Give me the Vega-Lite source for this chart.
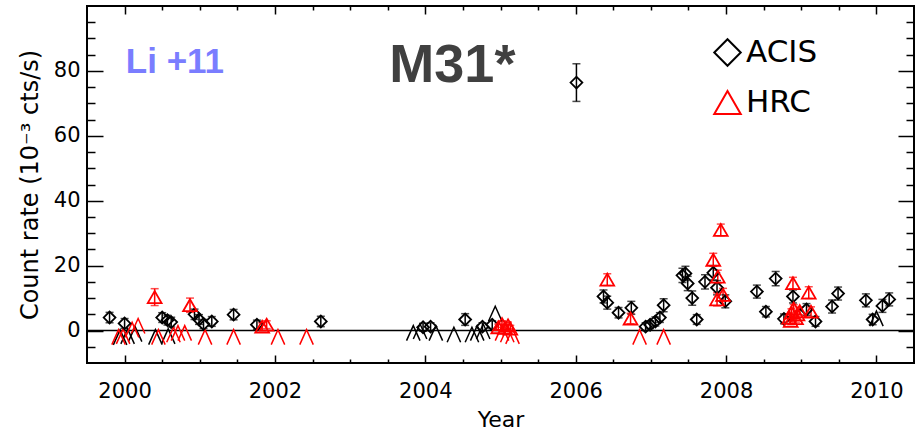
{
  "$schema": "https://vega.github.io/schema/vega-lite/v6.json",
  "width": 827,
  "height": 357,
  "autosize": {"type": "none"},
  "padding": {"left": 87, "top": 6, "right": 5, "bottom": 70},
  "background": "white",
  "config": {
    "view": {"stroke": "black", "strokeWidth": 2},
    "axis": {"domain": false, "grid": false, "tickColor": "black", "tickWidth": 1.5, "labelColor": "black", "labelFont": "DejaVu Sans", "labelFontSize": 21, "titleFont": "DejaVu Sans", "titleFontSize": 22, "titleFontWeight": "normal", "titleColor": "black", "labelFlush": false, "labelOverlap": false, "labelBound": false}
  },
  "datasets": {
    "det": [
      {"t":1999.80,"v":4.0,"lo":2.4,"hi":5.6,"inst":"ACIS"},
      {"t":2000.00,"v":2.2,"lo":0.7,"hi":3.7,"inst":"ACIS"},
      {"t":2000.50,"v":4.0,"lo":2.5,"hi":5.5,"inst":"ACIS"},
      {"t":2000.57,"v":3.2,"lo":1.7,"hi":4.7,"inst":"ACIS"},
      {"t":2000.62,"v":2.6,"lo":1.1,"hi":4.1,"inst":"ACIS"},
      {"t":2000.93,"v":5.0,"lo":3.4,"hi":6.6,"inst":"ACIS"},
      {"t":2000.99,"v":3.4,"lo":1.9,"hi":4.9,"inst":"ACIS"},
      {"t":2001.05,"v":2.0,"lo":0.6,"hi":3.4,"inst":"ACIS"},
      {"t":2001.16,"v":2.8,"lo":1.3,"hi":4.3,"inst":"ACIS"},
      {"t":2001.45,"v":4.9,"lo":3.3,"hi":6.5,"inst":"ACIS"},
      {"t":2001.76,"v":1.8,"lo":0.4,"hi":3.2,"inst":"ACIS"},
      {"t":2002.61,"v":2.8,"lo":1.2,"hi":4.4,"inst":"ACIS"},
      {"t":2003.97,"v":1.0,"lo":-0.2,"hi":2.2,"inst":"ACIS"},
      {"t":2004.07,"v":1.2,"lo":0.0,"hi":2.4,"inst":"ACIS"},
      {"t":2004.53,"v":3.4,"lo":1.6,"hi":5.2,"inst":"ACIS"},
      {"t":2004.76,"v":1.2,"lo":0.0,"hi":2.4,"inst":"ACIS"},
      {"t":2004.89,"v":1.8,"lo":0.6,"hi":3.0,"inst":"ACIS"},
      {"t":2006.01,"v":76.4,"lo":70.6,"hi":82.2,"inst":"ACIS"},
      {"t":2006.37,"v":10.5,"lo":8.5,"hi":12.5,"inst":"ACIS"},
      {"t":2006.42,"v":8.6,"lo":6.6,"hi":10.6,"inst":"ACIS"},
      {"t":2006.57,"v":5.5,"lo":3.9,"hi":7.1,"inst":"ACIS"},
      {"t":2006.74,"v":7.0,"lo":5.0,"hi":9.0,"inst":"ACIS"},
      {"t":2006.93,"v":1.2,"lo":0.0,"hi":2.4,"inst":"ACIS"},
      {"t":2006.99,"v":1.8,"lo":0.6,"hi":3.0,"inst":"ACIS"},
      {"t":2007.06,"v":2.8,"lo":1.4,"hi":4.2,"inst":"ACIS"},
      {"t":2007.12,"v":4.0,"lo":2.5,"hi":5.5,"inst":"ACIS"},
      {"t":2007.17,"v":7.8,"lo":5.8,"hi":9.8,"inst":"ACIS"},
      {"t":2007.42,"v":17.0,"lo":14.8,"hi":19.2,"inst":"ACIS"},
      {"t":2007.46,"v":17.6,"lo":15.4,"hi":19.8,"inst":"ACIS"},
      {"t":2007.49,"v":14.5,"lo":12.3,"hi":16.7,"inst":"ACIS"},
      {"t":2007.55,"v":10.0,"lo":7.8,"hi":12.2,"inst":"ACIS"},
      {"t":2007.61,"v":3.4,"lo":1.9,"hi":4.9,"inst":"ACIS"},
      {"t":2007.72,"v":15.0,"lo":12.8,"hi":17.2,"inst":"ACIS"},
      {"t":2007.83,"v":17.8,"lo":15.6,"hi":20.0,"inst":"ACIS"},
      {"t":2007.88,"v":13.2,"lo":11.0,"hi":15.4,"inst":"ACIS"},
      {"t":2007.99,"v":9.0,"lo":7.0,"hi":11.0,"inst":"ACIS"},
      {"t":2008.41,"v":12.0,"lo":10.0,"hi":14.0,"inst":"ACIS"},
      {"t":2008.53,"v":5.8,"lo":4.2,"hi":7.4,"inst":"ACIS"},
      {"t":2008.66,"v":16.0,"lo":13.8,"hi":18.2,"inst":"ACIS"},
      {"t":2008.77,"v":3.6,"lo":2.1,"hi":5.1,"inst":"ACIS"},
      {"t":2008.89,"v":10.5,"lo":8.5,"hi":12.5,"inst":"ACIS"},
      {"t":2009.07,"v":6.5,"lo":4.7,"hi":8.3,"inst":"ACIS"},
      {"t":2009.19,"v":2.8,"lo":1.3,"hi":4.3,"inst":"ACIS"},
      {"t":2009.41,"v":7.4,"lo":5.4,"hi":9.4,"inst":"ACIS"},
      {"t":2009.49,"v":11.4,"lo":9.4,"hi":13.4,"inst":"ACIS"},
      {"t":2009.86,"v":9.3,"lo":7.3,"hi":11.3,"inst":"ACIS"},
      {"t":2009.95,"v":3.4,"lo":1.8,"hi":5.0,"inst":"ACIS"},
      {"t":2010.08,"v":7.6,"lo":5.6,"hi":9.6,"inst":"ACIS"},
      {"t":2010.17,"v":9.6,"lo":7.6,"hi":11.6,"inst":"ACIS"},
      {"t":2000.40,"v":10.3,"lo":7.7,"hi":12.9,"inst":"HRC"},
      {"t":2000.87,"v":7.8,"lo":5.6,"hi":10.0,"inst":"HRC"},
      {"t":2001.83,"v":1.2,"lo":0.0,"hi":2.4,"inst":"HRC"},
      {"t":2001.89,"v":1.8,"lo":0.6,"hi":3.0,"inst":"HRC"},
      {"t":2004.97,"v":1.0,"lo":0.0,"hi":2.0,"inst":"HRC"},
      {"t":2005.02,"v":2.0,"lo":1.0,"hi":3.0,"inst":"HRC"},
      {"t":2005.06,"v":0.8,"lo":-0.2,"hi":1.8,"inst":"HRC"},
      {"t":2005.10,"v":1.6,"lo":0.6,"hi":2.6,"inst":"HRC"},
      {"t":2005.13,"v":0.6,"lo":-0.4,"hi":1.6,"inst":"HRC"},
      {"t":2006.42,"v":15.7,"lo":13.9,"hi":17.5,"inst":"HRC"},
      {"t":2006.73,"v":3.7,"lo":2.1,"hi":5.3,"inst":"HRC"},
      {"t":2007.83,"v":21.8,"lo":19.8,"hi":23.8,"inst":"HRC"},
      {"t":2007.93,"v":31.0,"lo":29.2,"hi":32.8,"inst":"HRC"},
      {"t":2007.89,"v":16.6,"lo":14.6,"hi":18.6,"inst":"HRC"},
      {"t":2007.88,"v":9.6,"lo":7.6,"hi":11.6,"inst":"HRC"},
      {"t":2007.96,"v":11.0,"lo":9.0,"hi":13.0,"inst":"HRC"},
      {"t":2008.89,"v":14.6,"lo":12.8,"hi":16.4,"inst":"HRC"},
      {"t":2008.84,"v":4.0,"lo":2.8,"hi":5.2,"inst":"HRC"},
      {"t":2008.87,"v":5.5,"lo":4.3,"hi":6.7,"inst":"HRC"},
      {"t":2008.90,"v":6.8,"lo":5.6,"hi":8.0,"inst":"HRC"},
      {"t":2008.93,"v":3.8,"lo":2.6,"hi":5.0,"inst":"HRC"},
      {"t":2008.95,"v":5.0,"lo":3.8,"hi":6.2,"inst":"HRC"},
      {"t":2008.86,"v":3.0,"lo":1.8,"hi":4.2,"inst":"HRC"},
      {"t":2008.98,"v":6.0,"lo":4.8,"hi":7.2,"inst":"HRC"},
      {"t":2009.10,"v":11.7,"lo":9.9,"hi":13.5,"inst":"HRC"},
      {"t":2009.13,"v":5.8,"lo":4.3,"hi":7.3,"inst":"HRC"}
    ],
    "ul": [
      {"t":1999.94,"v":0.2,"inst":"ACIS"},
      {"t":2000.04,"v":0.5,"inst":"ACIS"},
      {"t":2000.14,"v":1.2,"inst":"ACIS"},
      {"t":2000.41,"v":0.3,"inst":"ACIS"},
      {"t":2000.58,"v":0.5,"inst":"ACIS"},
      {"t":2003.84,"v":1.5,"inst":"ACIS"},
      {"t":2003.93,"v":2.0,"inst":"ACIS"},
      {"t":2004.14,"v":1.5,"inst":"ACIS"},
      {"t":2004.38,"v":1.0,"inst":"ACIS"},
      {"t":2004.62,"v":1.0,"inst":"ACIS"},
      {"t":2004.69,"v":1.5,"inst":"ACIS"},
      {"t":2004.77,"v":2.0,"inst":"ACIS"},
      {"t":2004.93,"v":7.5,"inst":"ACIS"},
      {"t":2010.00,"v":6.0,"inst":"ACIS"},
      {"t":1999.92,"v":0.3,"inst":"HRC"},
      {"t":1999.98,"v":0.5,"inst":"HRC"},
      {"t":2000.10,"v":2.5,"inst":"HRC"},
      {"t":2000.18,"v":3.7,"inst":"HRC"},
      {"t":2000.45,"v":0.3,"inst":"HRC"},
      {"t":2000.65,"v":1.0,"inst":"HRC"},
      {"t":2000.71,"v":1.5,"inst":"HRC"},
      {"t":2000.80,"v":1.5,"inst":"HRC"},
      {"t":2001.07,"v":0.3,"inst":"HRC"},
      {"t":2001.45,"v":0.3,"inst":"HRC"},
      {"t":2002.04,"v":0.3,"inst":"HRC"},
      {"t":2002.42,"v":0.3,"inst":"HRC"},
      {"t":2005.02,"v":1.5,"inst":"HRC"},
      {"t":2005.09,"v":1.0,"inst":"HRC"},
      {"t":2005.16,"v":0.5,"inst":"HRC"},
      {"t":2006.85,"v":0.3,"inst":"HRC"},
      {"t":2007.17,"v":0.3,"inst":"HRC"}
    ],
    "labels": [
      {"name": "Li +11"},
      {"name": "M31*"}
    ]
  },
  "resolve": {"axis": {"x": "independent", "y": "independent"}},
  "layer": [
    {
      "data": {"values": [{}]},
      "mark": {"type": "rule", "color": "black", "strokeWidth": 1.5},
      "encoding": {"y": {"datum": 0, "type": "quantitative", "axis": null}}
    },
    {
      "data": {"name": "det"},
      "mark": {"type": "rule", "strokeWidth": 1.5},
      "encoding": {
        "x": {"field": "t", "type": "quantitative", "scale": {"domain": [1999.5, 2010.5], "nice": false, "zero": false},
          "axis": {"orient": "top", "values": [2000,2000.5,2001,2001.5,2002,2002.5,2003,2003.5,2004,2004.5,2005,2005.5,2006,2006.5,2007,2007.5,2008,2008.5,2009,2009.5,2010],
            "tickSize": {"condition": {"test": "datum.value % 2 === 0", "value": -8}, "value": -4}, "labels": false, "title": null}},
        "y": {"field": "lo", "type": "quantitative", "scale": {"domain": [-10, 100], "nice": false, "zero": false},
          "axis": {"orient": "right", "values": [-5,0,5,10,15,20,25,30,35,40,45,50,55,60,65,70,75,80,85,90,95],
            "tickSize": {"condition": {"test": "datum.value % 20 === 0", "value": -16}, "value": -8}, "labels": false, "title": null}},
        "y2": {"field": "hi"},
        "color": {"condition": {"test": "datum.inst === 'HRC'", "value": "#ff0000"}, "value": "#000000"}
      }
    },
    {
      "data": {"name": "det"},
      "mark": {"type": "tick", "orient": "horizontal", "size": 8, "thickness": 1.5},
      "encoding": {
        "x": {"field": "t", "type": "quantitative", "axis": null},
        "y": {"field": "hi", "type": "quantitative", "axis": null},
        "color": {"condition": {"test": "datum.inst === 'HRC'", "value": "#ff0000"}, "value": "#000000"}
      }
    },
    {
      "data": {"name": "det"},
      "mark": {"type": "tick", "orient": "horizontal", "size": 8, "thickness": 1.5},
      "encoding": {
        "x": {"field": "t", "type": "quantitative", "axis": null},
        "y": {"field": "lo", "type": "quantitative", "axis": null},
        "color": {"condition": {"test": "datum.inst === 'HRC'", "value": "#ff0000"}, "value": "#000000"}
      }
    },
    {
      "data": {"name": "ul"},
      "mark": {"type": "point", "shape": "M-0.9,2L0,0L0.9,2", "filled": false, "size": 225, "strokeWidth": 1.5, "opacity": 1},
      "encoding": {
        "x": {"field": "t", "type": "quantitative", "axis": null},
        "y": {"field": "v", "type": "quantitative", "axis": null},
        "color": {"condition": {"test": "datum.inst === 'HRC'", "value": "#ff0000"}, "value": "#000000"}
      }
    },
    {
      "data": {"name": "det"},
      "mark": {"type": "point", "filled": false, "strokeWidth": 1.8, "opacity": 1},
      "encoding": {
        "x": {"field": "t", "type": "quantitative", "scale": {"domain": [1999.5, 2010.5], "nice": false, "zero": false},
          "axis": {"orient": "bottom", "values": [2000,2000.5,2001,2001.5,2002,2002.5,2003,2003.5,2004,2004.5,2005,2005.5,2006,2006.5,2007,2007.5,2008,2008.5,2009,2009.5,2010],
            "tickSize": {"condition": {"test": "datum.value % 2 === 0", "value": -8}, "value": -4},
            "labelExpr": "datum.value % 2 === 0 ? format(datum.value, 'd') : ''", "labelPadding": 25, "title": "Year", "titlePadding": 4}},
        "y": {"field": "v", "type": "quantitative", "scale": {"domain": [-10, 100], "nice": false, "zero": false},
          "axis": {"orient": "left", "values": [-5,0,5,10,15,20,25,30,35,40,45,50,55,60,65,70,75,80,85,90,95],
            "tickSize": {"condition": {"test": "datum.value % 20 === 0", "value": -16}, "value": -8},
            "labelExpr": "datum.value % 20 === 0 ? datum.label : ''", "labelPadding": 23, "title": "Count rate (10⁻³ cts/s)", "titleFontSize": 24, "titlePadding": 11}},
        "shape": {"field": "inst", "type": "nominal", "scale": {"domain": ["ACIS", "HRC"], "range": ["diamond", "triangle-up"]},
          "legend": {"orient": "none", "legendX": 625, "legendY": 31, "title": null, "padding": 0, "symbolSize": 700, "symbolStrokeWidth": 2, "rowPadding": 16, "labelFontSize": 31, "labelFont": "DejaVu Sans", "labelOffset": 3,
            "encode": {"symbols": {"update": {"size": {"signal": "datum.value === 'ACIS' ? 680 : 420"}}}, "labels": {"update": {"fill": {"signal": "datum.value === 'HRC' ? '#ff0000' : '#000000'"}}}}}},
        "color": {"field": "inst", "type": "nominal", "scale": {"domain": ["ACIS", "HRC"], "range": ["#000000", "#ff0000"]},
          "legend": {"orient": "none", "legendX": 625, "legendY": 31, "title": null, "padding": 0, "symbolSize": 700, "symbolStrokeWidth": 2, "rowPadding": 16, "labelFontSize": 31, "labelFont": "DejaVu Sans", "labelOffset": 3,
            "encode": {"symbols": {"update": {"size": {"signal": "datum.value === 'ACIS' ? 680 : 420"}}}, "labels": {"update": {"fill": {"signal": "datum.value === 'HRC' ? '#ff0000' : '#000000'"}}}}}},
        "size": {"condition": {"test": "datum.inst === 'HRC'", "value": 190}, "value": 140}
      }
    },
    {
      "data": {"name": "labels"},
      "transform": [{"filter": "datum.name === 'Li +11'"}],
      "mark": {"type": "text", "font": "Liberation Sans", "fontWeight": "bold", "fontSize": 35, "color": "#7a7dff", "align": "center", "baseline": "alphabetic"},
      "encoding": {
        "x": {"datum": 2000.67, "type": "quantitative", "axis": null},
        "y": {"datum": 79.5, "type": "quantitative", "axis": null},
        "text": {"field": "name"}
      }
    },
    {
      "data": {"name": "labels"},
      "transform": [{"filter": "datum.name === 'M31*'"}],
      "mark": {"type": "text", "font": "Liberation Sans", "fontWeight": "bold", "fontSize": 54, "color": "#404040", "align": "center", "baseline": "alphabetic"},
      "encoding": {
        "x": {"datum": 2004.36, "type": "quantitative", "axis": null},
        "y": {"datum": 76.5, "type": "quantitative", "axis": null},
        "text": {"field": "name"}
      }
    }
  ]
}
